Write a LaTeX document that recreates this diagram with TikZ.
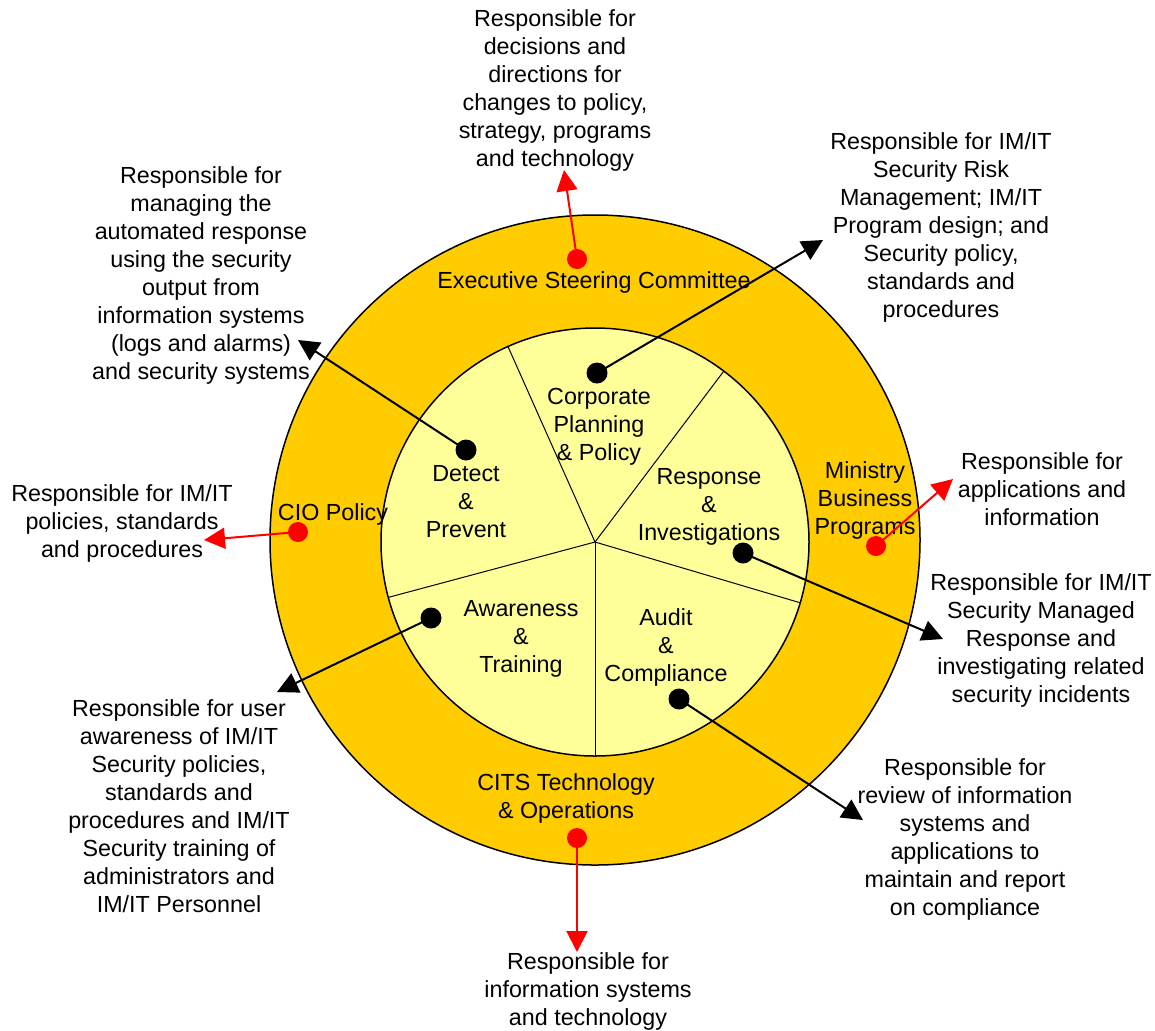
\documentclass[tikz,border=0pt]{standalone}
\usepackage{fontspec}
\setmainfont{Liberation Sans}
\usetikzlibrary{arrows.meta}
\definecolor{ringgold}{HTML}{FFCC00}
\definecolor{paleyellow}{HTML}{FFFF99}
\begin{document}
\begin{tikzpicture}[x=0.5pt,y=-0.5pt,
  txt/.style={align=center,inner sep=0pt,font=\fontsize{11.65}{14}\selectfont},
  bdot/.style={circle,fill=black,minimum size=10.5pt,inner sep=0pt},
  rdot/.style={circle,fill=red,minimum size=10pt,inner sep=0pt},
  blink/.style={draw=black,line width=1pt,-{Triangle[length=10.5pt,width=10.5pt]}},
  rlink/.style={draw=red,fill=red,line width=1pt,-{Triangle[length=10.5pt,width=10.5pt]}},
  divider/.style={line width=0.5pt}]
\useasboundingbox (0,0) rectangle (1155,1030);
\fill[white] (0,0) rectangle (1155,1030);

% rings and pie
\coordinate (c) at (595,542);
\filldraw[fill=ringgold,line width=0.75pt] (595,540) circle (162.5pt);
\filldraw[fill=paleyellow,line width=0.75pt] (c) circle (107pt);
\foreach \a in {-114,-53,16.5,90,165} \draw[divider] (c) -- ++(\a:214);

% ring labels
\node[txt] (lexec) at (594,282) {Executive Steering Committee};
\node[txt] (lcio) at (333,514) {CIO Policy};
\node[txt] (lmin) at (865,500) {Ministry\\Business\\Programs};
\node[txt] (lcits) at (566,798) {CITS Technology\\\& Operations};

% sector labels
\node[txt] (lcorp) at (599,427) {Corporate\\Planning\\\& Policy};
\node[txt] (ldet) at (466,502) {Detect\\\&\\Prevent};
\node[txt] (lresp) at (709,507) {Response\\\&\\Investigations};
\node[txt] (lawa) at (521,639) {Awareness\\\&\\Training};
\node[txt] (laud) at (666,647) {Audit\\\&\\Compliance};

% responsibilities
\node[txt] (dexec) at (555,90) {Responsible for\\decisions and\\directions for\\changes to policy,\\strategy, programs\\and technology};
\node[txt] (ddet) at (201,275) {Responsible for\\managing the\\automated response\\using the security\\output from\\information systems\\(logs and alarms)\\and security systems};
\node[txt] (dcorp) at (941,227) {Responsible for IM/IT\\Security Risk\\Management; IM/IT\\Program design; and\\Security policy,\\standards and\\procedures};
\node[txt] (dcio) at (122,523) {Responsible for IM/IT\\policies, standards\\and procedures};
\node[txt] (dmin) at (1042,489) {Responsible for\\applications and\\information};
\node[txt] (dresp) at (1041,640) {Responsible for IM/IT\\Security Managed\\Response and\\investigating related\\security incidents};
\node[txt] (dawa) at (179,806) {Responsible for user\\awareness of IM/IT\\Security policies,\\standards and\\procedures and IM/IT\\Security training of\\administrators and\\IM/IT Personnel};
\node[txt] (daud) at (965,839) {Responsible for\\review of information\\systems and\\applications to\\maintain and report\\on compliance};
\node[txt] (dcits) at (588,991) {Responsible for\\information systems\\and technology};

% arrow tips
\coordinate (texec) at (564,170);
\coordinate (tcio) at (204,540);
\coordinate (tmin) at (953,479);
\coordinate (tcits) at (577,952);
\coordinate (tcorp) at (823,240);
\coordinate (tdet) at (298,340);
\coordinate (tresp) at (943,639);
\coordinate (tawa) at (277,692);
\coordinate (taud) at (863,820);

% markers
\node[rdot] (rexec) at (577,259) {};
\node[rdot] (rcio) at (298,532) {};
\node[rdot] (rmin) at (876,546) {};
\node[rdot] (rcits) at (577,838) {};
\node[bdot] (bcorp) at (597,373) {};
\node[bdot] (bdet) at (466,450) {};
\node[bdot] (bresp) at (743,553) {};
\node[bdot] (bawa) at (431,618) {};
\node[bdot] (baud) at (679,699) {};

% connectors
\draw[rlink] (rexec.center) -- (texec);
\draw[rlink] (rcio.center) -- (tcio);
\draw[rlink] (rmin.center) -- (tmin);
\draw[rlink] (rcits.center) -- (tcits);
\draw[blink] (bcorp.center) -- (tcorp);
\draw[blink] (bdet.center) -- (tdet);
\draw[blink] (bresp.center) -- (tresp);
\draw[blink] (bawa.center) -- (tawa);
\draw[blink] (baud.center) -- (taud);
\end{tikzpicture}
\end{document}
